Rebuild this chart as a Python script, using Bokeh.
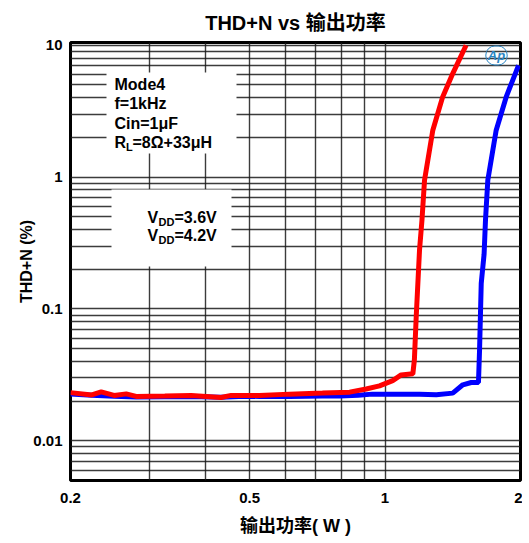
import math
from bokeh.plotting import figure
from bokeh.models import Range1d, FixedTicker, Label, BoxAnnotation
from bokeh.embed import file_html
from bokeh.resources import INLINE

# ---- data ----
red_x = [0.2, 0.223, 0.234, 0.25, 0.266, 0.28, 0.324, 0.371, 0.432, 0.455, 0.487, 0.526,
         0.613, 0.726, 0.834, 0.908, 0.972, 1.04, 1.086, 1.153, 1.162, 1.173, 1.193, 1.208,
         1.224, 1.277, 1.343, 1.414, 1.514]
red_y = [0.0232, 0.0223, 0.0235, 0.0221, 0.0227, 0.0217, 0.0219, 0.0221, 0.0213, 0.0221,
         0.0221, 0.0221, 0.0226, 0.0230, 0.0234, 0.0247, 0.0261, 0.0286, 0.0316, 0.0322,
         0.0411, 0.0874, 0.280, 0.472, 0.949, 2.27, 4.06, 6.1, 10.0]

blue_x = [0.2, 0.223, 0.25, 0.28, 0.324, 0.371, 0.432, 0.487, 0.526, 0.613, 0.726, 0.793,
          0.872, 0.938, 1.0, 1.193, 1.30, 1.414, 1.489, 1.554, 1.613, 1.622, 1.636, 1.66,
          1.672, 1.692, 1.766, 1.859, 1.98]
blue_y = [0.0226, 0.0222, 0.0218, 0.0215, 0.0216, 0.0217, 0.0214, 0.0218, 0.0217, 0.0217,
          0.0219, 0.0219, 0.0222, 0.0226, 0.0226, 0.0226, 0.0224, 0.0230, 0.0266, 0.0277,
          0.0277, 0.0489, 0.1566, 0.26, 0.472, 0.949, 2.27, 4.06, 7.05]

x_ticks = [0.2, 0.5, 1, 2]
x_tick_labels = ["0.2", "0.5", "1", "2"]
y_ticks = [0.01, 0.1, 1, 10]
y_tick_labels = ["0.01", "0.1", "1", "10"]
x_grid = [0.3, 0.4, 0.5, 0.6, 0.7, 0.8, 0.9, 1.0]

TITLE = "THD+N vs 输出功率"
XLABEL = "输出功率( W )"
YLABEL = "THD+N (%)"
series_names = ["3.6V", "4.2V"]
cond_lines = ["Mode4", "f=1kHz", "Cin=1μF"]

# ---- styling ----
FONT = "Liberation Sans, Noto Sans CJK SC"
X0, X1 = 0.2, 2.0
Y0, Y1 = 0.005, 10.5

p = figure(frame_width=450, frame_height=438, x_axis_type="log", y_axis_type="log",
           x_range=Range1d(X0, X1), y_range=Range1d(Y0, Y1),
           output_backend="svg", toolbar_location=None,
           min_border_left=70, min_border_right=2, min_border_top=42, min_border_bottom=55)

p.title.text = TITLE
p.title.align = "center"
p.title.text_font = FONT
p.title.text_font_size = "20px"
p.title.text_font_style = "bold"
p.title.text_color = "black"
p.title.standoff = 17
p.title.offset = 4

p.outline_line_color = "black"
p.outline_line_width = 3

for ax in (p.xaxis[0], p.yaxis[0]):
    ax.axis_line_color = None
    ax.major_tick_line_color = None
    ax.minor_tick_line_color = None
    ax.major_tick_out = 0
    ax.major_tick_in = 0
    ax.minor_tick_out = 0
    ax.minor_tick_in = 0
    ax.major_label_text_font = FONT
    ax.major_label_text_font_size = "15px"
    ax.major_label_text_font_style = "bold"
    ax.major_label_text_color = "black"
    ax.axis_label_text_font = FONT
    ax.axis_label_text_font_style = "bold"
    ax.axis_label_text_color = "black"

p.xaxis.ticker = FixedTicker(ticks=x_ticks)
p.xaxis.major_label_overrides = {t: s for t, s in zip(x_ticks, x_tick_labels)}
p.yaxis.ticker = FixedTicker(ticks=y_ticks)
p.yaxis.major_label_overrides = {t: s for t, s in zip(y_ticks, y_tick_labels)}
p.xaxis.major_label_standoff = 12
p.yaxis.major_label_standoff = 8
p.xaxis.axis_label = XLABEL
p.xaxis.axis_label_text_font_size = "18px"
p.xaxis.axis_label_standoff = 10
p.yaxis.axis_label = YLABEL
p.yaxis.axis_label_text_font_size = "16px"
p.yaxis.axis_label_standoff = -5

y_grid = [m * 10.0 ** e for e in range(-3, 2) for m in range(1, 10) if Y0 < m * 10.0 ** e < Y1]
p.ygrid.ticker = FixedTicker(ticks=y_grid)
p.xgrid.ticker = FixedTicker(ticks=x_grid)
for g in (p.xgrid[0], p.ygrid[0]):
    g.grid_line_color = "#1a1a1a"
    g.grid_line_width = 1.4
    g.grid_line_alpha = 0.85

p.line(blue_x, blue_y, line_color="#0000ff", line_width=5)
p.line(red_x, red_y, line_color="#ff0000", line_width=5)

# helpers: reference page pixel -> data coordinates (frame spans x 71..521, y 42..480)
LX = math.log10(X1 / X0)
LY = math.log10(Y1 / Y0)
def px2x(px):
    return X0 * 10 ** ((px - 71) / 450 * LX)
def py2y(py):
    return Y0 * 10 ** ((480 - py) / 438 * LY)

# white annotation boxes
p.add_layout(BoxAnnotation(left=px2x(107), right=px2x(237), top=py2y(72), bottom=py2y(153),
                           fill_color="white", fill_alpha=1, line_color=None))
p.add_layout(BoxAnnotation(left=px2x(112), right=px2x(232), top=py2y(189), bottom=py2y(266),
                           fill_color="white", fill_alpha=1, line_color=None))

def lab(text, px, py, size="16px", xo=0, yo=0, color="black", style="bold", align="left"):
    p.add_layout(Label(x=px2x(px), y=py2y(py), text=text, x_offset=xo, y_offset=yo,
                       text_font=FONT, text_font_size=size, text_font_style=style,
                       text_color=color, text_baseline="middle", text_align=align))

for i, t in enumerate(cond_lines):
    lab(t, 115, 84 + i * 19.3)
lab("R", 115, 142)
lab("L", 115, 142, size="11px", xo=11.5, yo=-4)
lab("=8Ω+33μH", 115, 142, xo=18)

# legend keys
colors = ["#ff0000", "#0000ff"]
key_y = [218, 236]
for c, ky, nm in zip(colors, key_y, series_names):
    p.segment(x0=[px2x(117)], y0=[py2y(ky)], x1=[px2x(137)], y1=[py2y(ky)],
              line_color=c, line_width=3)
    lab("V", 148, ky - 1)
    lab("DD", 148, ky - 1, size="11px", xo=11, yo=-4)
    lab("=" + nm, 148, ky - 1, xo=27)

# Ap logo
p.add_layout(Label(x=px2x(497), y=py2y(55), text="Ap", text_font=FONT, text_font_size="13px",
                   text_font_style="bold italic", text_color="#2a86c4", text_baseline="middle",
                   text_align="center", border_line_color="#2a86c4", border_line_width=1,
                   border_radius=9, padding=2))

open("out.html", "w").write(file_html(p, INLINE))
